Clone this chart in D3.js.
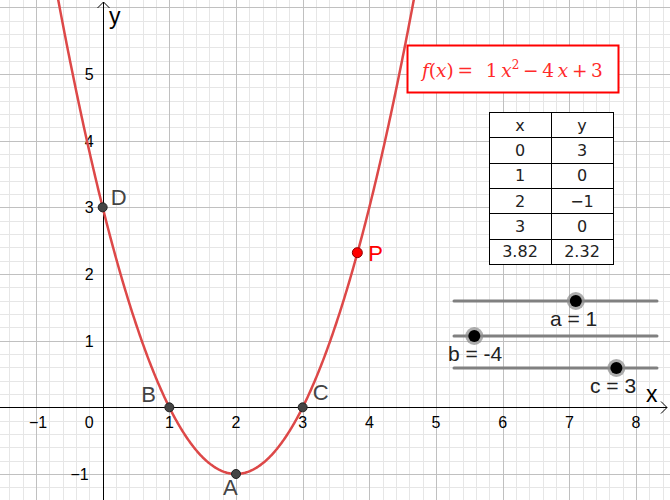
<!DOCTYPE html>
<html><head><meta charset="utf-8">
<script src="https://cdn.jsdelivr.net/npm/d3@7"></script>
<style>body{margin:0;background:#fff}svg{display:block}</style>
</head><body>
<script>
// ---- data ----
const coefNames = ["a", "b", "c"];
const coefValues = [1, -4, 3];
const sliderRange = [-5, 5];
const pointNames = ["D", "B", "C", "A"];
const pointX = [0, 1, 3, 2];
const pointY = [3, 0, 0, -1];
const pName = "P";
const pX = 3.82, pY = 2.32;
const tableX = ["0", "1", "2", "3", "3.82"];
const tableY = ["3", "0", "\u22121", "0", "2.32"];
const xTicks = [-1, 1, 2, 3, 4, 5, 6, 7, 8];
const yTicks = [-1, 1, 2, 3, 4, 5];

const W = 670, H = 500;
const font = "'Liberation Sans', Arial, sans-serif";
const svg = d3.select("body").append("svg").attr("width", W).attr("height", H);
const x = d3.scaleLinear().domain([-1.54, 8.51]).range([0, W]);
const y = d3.scaleLinear().domain([-1.39, 6.11]).range([H, 0]);

// grid
const g = svg.append("g");
const minorX = d3.range(Math.ceil(-1.54 * 5), Math.floor(8.51 * 5) + 1).map(i => i / 5);
const minorY = d3.range(Math.ceil(-1.39 * 5), Math.floor(6.11 * 5) + 1).map(i => i / 5);
g.selectAll(".mx").data(minorX.filter(v => Math.abs(v - Math.round(v)) > 1e-6)).join("line")
  .attr("x1", d => Math.round(x(d)) + 0.5).attr("x2", d => Math.round(x(d)) + 0.5).attr("y1", 0).attr("y2", H)
  .attr("stroke", "#e6e6e6").attr("stroke-width", 1);
g.selectAll(".my").data(minorY.filter(v => Math.abs(v - Math.round(v)) > 1e-6)).join("line")
  .attr("y1", d => Math.round(y(d)) + 0.5).attr("y2", d => Math.round(y(d)) + 0.5).attr("x1", 0).attr("x2", W)
  .attr("stroke", "#e6e6e6").attr("stroke-width", 1);
g.selectAll(".Mx").data(minorX.filter(v => Math.abs(v - Math.round(v)) < 1e-6 && v !== 0)).join("line")
  .attr("x1", d => Math.round(x(d)) + 0.5).attr("x2", d => Math.round(x(d)) + 0.5).attr("y1", 0).attr("y2", H)
  .attr("stroke", "#c0c0c0").attr("stroke-width", 1);
g.selectAll(".My").data(minorY.filter(v => Math.abs(v - Math.round(v)) < 1e-6 && v !== 0)).join("line")
  .attr("y1", d => Math.round(y(d)) + 0.5).attr("y2", d => Math.round(y(d)) + 0.5).attr("x1", 0).attr("x2", W)
  .attr("stroke", "#c0c0c0").attr("stroke-width", 1);

// axes
const ax0 = Math.round(x(0)) + 0.5, ay0 = Math.round(y(0)) + 0.5;
svg.append("line").attr("x1", 0).attr("x2", W - 3).attr("y1", ay0).attr("y2", ay0).attr("stroke", "#000");
svg.append("line").attr("x1", ax0).attr("x2", ax0).attr("y1", 2).attr("y2", H).attr("stroke", "#000");
svg.append("path").attr("d", `M${ax0 - 6},${8} L${ax0},${2} L${ax0 + 6},${8}`).attr("fill", "none").attr("stroke", "#000");
svg.append("path").attr("d", `M${W - 9},${ay0 - 6} L${W - 3},${ay0} L${W - 9},${ay0 + 6}`).attr("fill", "none").attr("stroke", "#000");
svg.append("text").attr("x", 109).attr("y", 24).text("y").attr("font-family", font).attr("font-size", 23).attr("fill", "#000");
svg.append("text").attr("x", 646).attr("y", 402).text("x").attr("font-family", font).attr("font-size", 23).attr("fill", "#000");

// tick labels
const fmt = v => v < 0 ? "\u2212" + Math.abs(v) : String(v);
svg.selectAll(".xt").data(xTicks).join("text")
  .attr("x", d => x(d) + (d < 0 ? 2 : 0)).attr("y", y(0) + 21).attr("text-anchor", "middle")
  .attr("font-family", font).attr("font-size", 16).attr("fill", "#000").text(fmt);
svg.append("text").attr("x", x(0) - 9).attr("y", y(0) + 21).attr("text-anchor", "end")
  .attr("font-family", font).attr("font-size", 16).attr("fill", "#000").text("0");
svg.selectAll(".yt").data(yTicks).join("text")
  .attr("x", d => x(0) - (d < 0 ? 14 : 9)).attr("y", d => y(d) + 6).attr("text-anchor", "end")
  .attr("font-family", font).attr("font-size", 16).attr("fill", "#000").text(fmt);

// function curve
const [a, b, c] = coefValues;
const f = t => a * t * t + b * t + c;
const xs = d3.range(-1.54 * 100, 8.51 * 100 + 1).map(i => i / 100);
svg.append("path").datum(xs.map(t => [t, f(t)]).filter(p => p[1] < 7 && p[1] > -3))
  .attr("d", d3.line().x(d => x(d[0])).y(d => y(d[1])))
  .attr("fill", "none").attr("stroke", "#dd4848").attr("stroke-width", 2.5);

// points
const pts = pointNames.map((n, i) => ({ n, x: pointX[i], y: pointY[i] }));
svg.selectAll(".pt").data(pts).join("circle")
  .attr("cx", d => x(d.x)).attr("cy", d => y(d.y)).attr("r", 4.5)
  .attr("fill", "#444").attr("stroke", "#222").attr("stroke-width", 1);
const labelOff = { D: [8, -2], B: [-28, -5], C: [10, -7], A: [-13, 21] };
svg.selectAll(".pl").data(pts).join("text")
  .attr("x", d => x(d.x) + labelOff[d.n][0]).attr("y", d => y(d.y) + labelOff[d.n][1])
  .attr("font-family", font).attr("font-size", 22).attr("fill", "#444").text(d => d.n);
svg.append("circle").attr("cx", x(pX)).attr("cy", y(pY)).attr("r", 5)
  .attr("fill", "#ff0000").attr("stroke", "#8a0000").attr("stroke-width", 1);
svg.append("text").attr("x", x(pX) + 11).attr("y", y(pY) + 8).attr("font-family", font)
  .attr("font-size", 22).attr("fill", "#ff0000").text(pName);

// formula box
svg.append("rect").attr("x", 407.5).attr("y", 45.5).attr("width", 211).attr("height", 47)
  .attr("fill", "#fff").attr("stroke", "#ff0000").attr("stroke-width", 2);
const ft = svg.append("text").attr("x", 422).attr("y", 77).attr("fill", "#ff2a2a")
  .attr("font-family", "'DejaVu Serif', 'Liberation Serif', serif").attr("font-size", 18.5);
const it = s => ft.append("tspan").attr("font-style", "italic").text(s);
const rm = s => ft.append("tspan").text(s);
it("f"); rm("("); it("x"); rm(")\u2009=\u2002\u2009" + a + "\u2009"); it("x");
ft.append("tspan").attr("dy", -8).attr("font-size", 12).text("2");
ft.append("tspan").attr("dy", 8).text("\u2009\u2212\u2009" + Math.abs(b) + "\u2009");
it("x"); rm("\u2009+\u2009" + c);

// table
const tx0 = 489, tx1 = 551, tx2 = 613;
const rows = [["x", "y"]].concat(tableX.map((v, i) => [v, tableY[i]]));
const ty = d3.scaleBand().domain(d3.range(rows.length)).range([112, 264]);
svg.append("rect").attr("x", tx0 + 0.5).attr("y", 112.5).attr("width", tx2 - tx0).attr("height", 152)
  .attr("fill", "#fff").attr("stroke", "#000");
svg.selectAll(".rl").data(d3.range(1, rows.length)).join("line")
  .attr("x1", tx0).attr("x2", tx2).attr("y1", d => Math.round(ty(d)) + 0.5).attr("y2", d => Math.round(ty(d)) + 0.5)
  .attr("stroke", "#000");
svg.append("line").attr("x1", tx1 + 0.5).attr("x2", tx1 + 0.5).attr("y1", 112).attr("y2", 264).attr("stroke", "#000");
rows.forEach((r, i) => {
  [r[0], r[1]].forEach((s, j) => {
    svg.append("text").attr("x", j === 0 ? (tx0 + tx1) / 2 : (tx1 + tx2) / 2)
      .attr("y", ty(i) + ty.bandwidth() / 2 + 6).attr("text-anchor", "middle")
      .attr("font-family", "'DejaVu Sans', sans-serif").attr("font-size", 16).attr("fill", "#222").text(s);
  });
});

// sliders
const sx = d3.scaleLinear().domain(sliderRange).range([454, 657]);
const sliderY = [301, 336, 368];
const labelPos = [[550, 326], [448, 361], [590, 393]];
coefNames.forEach((n, i) => {
  svg.append("line").attr("x1", sx.range()[0]).attr("x2", sx.range()[1]).attr("y1", sliderY[i]).attr("y2", sliderY[i])
    .attr("stroke", "#808080").attr("stroke-width", 3).attr("stroke-linecap", "round");
  svg.append("circle").attr("cx", sx(coefValues[i])).attr("cy", sliderY[i]).attr("r", 9).attr("fill", "#8a8a8a").attr("fill-opacity", 0.7);
  svg.append("circle").attr("cx", sx(coefValues[i])).attr("cy", sliderY[i]).attr("r", 6).attr("fill", "#000");
  svg.append("text").attr("x", labelPos[i][0]).attr("y", labelPos[i][1]).attr("font-family", font)
    .attr("font-size", 21).attr("fill", "#222").text(n + " = " + coefValues[i]);
});
</script>
</body></html>
